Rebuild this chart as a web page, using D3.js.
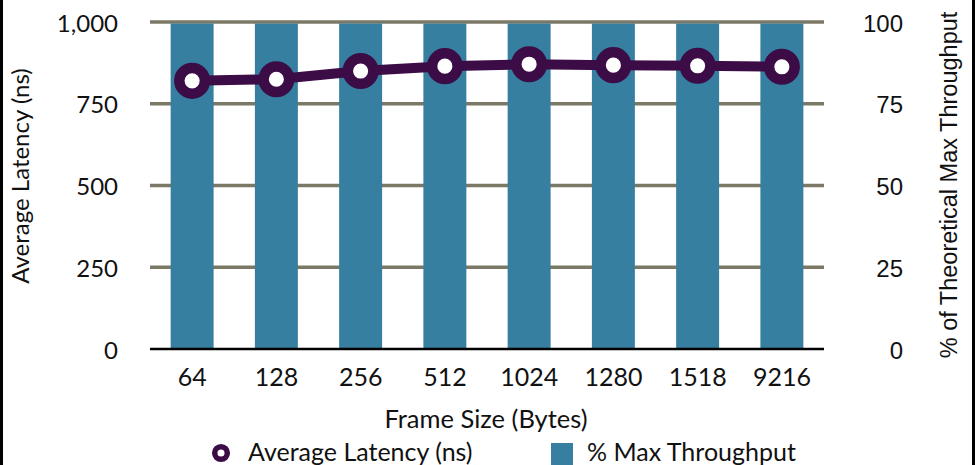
<!DOCTYPE html>
<html lang="en">
<head>
<meta charset="utf-8">
<title>Latency and Throughput by Frame Size</title>
<script src="https://d3js.org/d3.v7.min.js"></script>
<style>
  body { margin: 0; background: #fff; }
  .myriad { font-family: Lato, "Open Sans", sans-serif; fill: #111; }
  .helv { font-family: "Liberation Sans", Arial, sans-serif; fill: #111; }
</style>
</head>
<body>
<script>
// data
const frameSizes = ["64", "128", "256", "512", "1024", "1280", "1518", "9216"];
const latency = [820, 825, 850, 865, 871, 868, 866, 863];   // ns
const throughput = [100, 100, 100, 100, 100, 100, 100, 100]; // % of max
const latencyTicks = [0, 250, 500, 750, 1000];
const pctTicks = [0, 25, 50, 75, 100];

const w = 975, h = 465;
const plotLeft = 150, plotRight = 824, plotTop = 22, plotBottom = 349;

const svg = d3.select("body").append("svg")
  .attr("width", w)
  .attr("height", h);

// scales
const x = d3.scaleBand().domain(frameSizes).range([plotLeft, plotRight]).paddingInner(0.49).paddingOuter(0.245);
const yL = d3.scaleLinear().domain([0, 1000]).range([plotBottom, plotTop]);
const yR = d3.scaleLinear().domain([0, 100]).range([plotBottom, plotTop]);

// frame borders on the sides
svg.append("rect").attr("x", 0).attr("y", 0).attr("width", 3).attr("height", h).attr("fill", "#000");
svg.append("rect").attr("x", 972).attr("y", 0).attr("width", 3).attr("height", h).attr("fill", "#000");

// gridlines
svg.append("g")
  .selectAll("line")
  .data(latencyTicks.filter(d => d > 0))
  .join("line")
  .attr("x1", plotLeft).attr("x2", plotRight)
  .attr("y1", d => yL(d)).attr("y2", d => yL(d))
  .attr("stroke", "#7b7866")
  .attr("stroke-width", 3.5);

// bars
svg.append("g")
  .selectAll("rect")
  .data(frameSizes)
  .join("rect")
  .attr("x", d => x(d))
  .attr("width", x.bandwidth())
  .attr("y", (d, i) => yR(throughput[i]) + 1.5)
  .attr("height", (d, i) => yR(0) - yR(throughput[i]) - 1.5)
  .attr("fill", "#367fa1");

// baseline
svg.append("line")
  .attr("x1", plotLeft).attr("x2", plotRight)
  .attr("y1", plotBottom).attr("y2", plotBottom)
  .attr("stroke", "#000").attr("stroke-width", 2.5);

// left axis (latency)
const leftAxis = d3.axisLeft(yL).tickValues(latencyTicks).tickSize(0).tickPadding(0)
  .tickFormat(d3.format(","));
svg.append("g")
  .attr("transform", "translate(118,0)")
  .call(leftAxis)
  .call(g => g.select(".domain").remove())
  .call(g => g.selectAll("text").attr("class", "myriad").attr("font-size", 24).attr("dy", "0.38em"));

// right axis (percent)
const rightAxis = d3.axisRight(yR).tickValues(pctTicks).tickSize(0).tickPadding(0);
svg.append("g")
  .attr("transform", "translate(903,0)")
  .call(rightAxis)
  .call(g => g.select(".domain").remove())
  .call(g => g.selectAll("text").attr("class", "helv").attr("font-size", 24)
    .attr("text-anchor", "end").attr("dy", "0.38em"));

// bottom axis
const bottomAxis = d3.axisBottom(x).tickSize(0).tickPadding(0);
svg.append("g")
  .attr("transform", "translate(0," + 366 + ")")
  .call(bottomAxis)
  .call(g => g.select(".domain").remove())
  .call(g => g.selectAll("text").attr("class", "myriad").attr("font-size", 25).attr("dy", "0.78em"));

// axis titles
svg.append("text")
  .attr("class", "myriad").attr("font-size", 24)
  .attr("text-anchor", "middle")
  .attr("transform", "translate(29,176) rotate(-90)")
  .text("Average Latency (ns)");

svg.append("text")
  .attr("class", "helv").attr("font-size", 23.5)
  .attr("text-anchor", "middle")
  .attr("transform", "translate(957,185) rotate(-90)")
  .text("% of Theoretical Max Throughput");

svg.append("text")
  .attr("class", "myriad").attr("font-size", 25.5)
  .attr("text-anchor", "middle")
  .attr("x", 486).attr("y", 428)
  .text("Frame Size (Bytes)");

// latency line
const line = d3.line()
  .x((d, i) => x(frameSizes[i]) + x.bandwidth() / 2)
  .y(d => yL(d));

svg.append("path")
  .datum(latency)
  .attr("d", line)
  .attr("fill", "none")
  .attr("stroke", "#3c0c46")
  .attr("stroke-width", 10);

svg.append("g")
  .selectAll("circle")
  .data(latency)
  .join("circle")
  .attr("cx", (d, i) => x(frameSizes[i]) + x.bandwidth() / 2)
  .attr("cy", d => yL(d))
  .attr("r", 12.8)
  .attr("fill", "#fff")
  .attr("stroke", "#3c0c46")
  .attr("stroke-width", 10.5);

// legend
const legend = svg.append("g");
legend.append("circle")
  .attr("cx", 221).attr("cy", 453).attr("r", 6.3)
  .attr("fill", "#fff").attr("stroke", "#3c0c46").attr("stroke-width", 5.5);
legend.append("text")
  .attr("class", "myriad").attr("font-size", 25)
  .attr("x", 248).attr("y", 461)
  .text("Average Latency (ns)");
legend.append("rect")
  .attr("x", 551).attr("y", 443).attr("width", 22).attr("height", 22)
  .attr("fill", "#367fa1");
legend.append("text")
  .attr("class", "myriad").attr("font-size", 25)
  .attr("x", 587).attr("y", 461)
  .text("% Max Throughput");
</script>
</body>
</html>
